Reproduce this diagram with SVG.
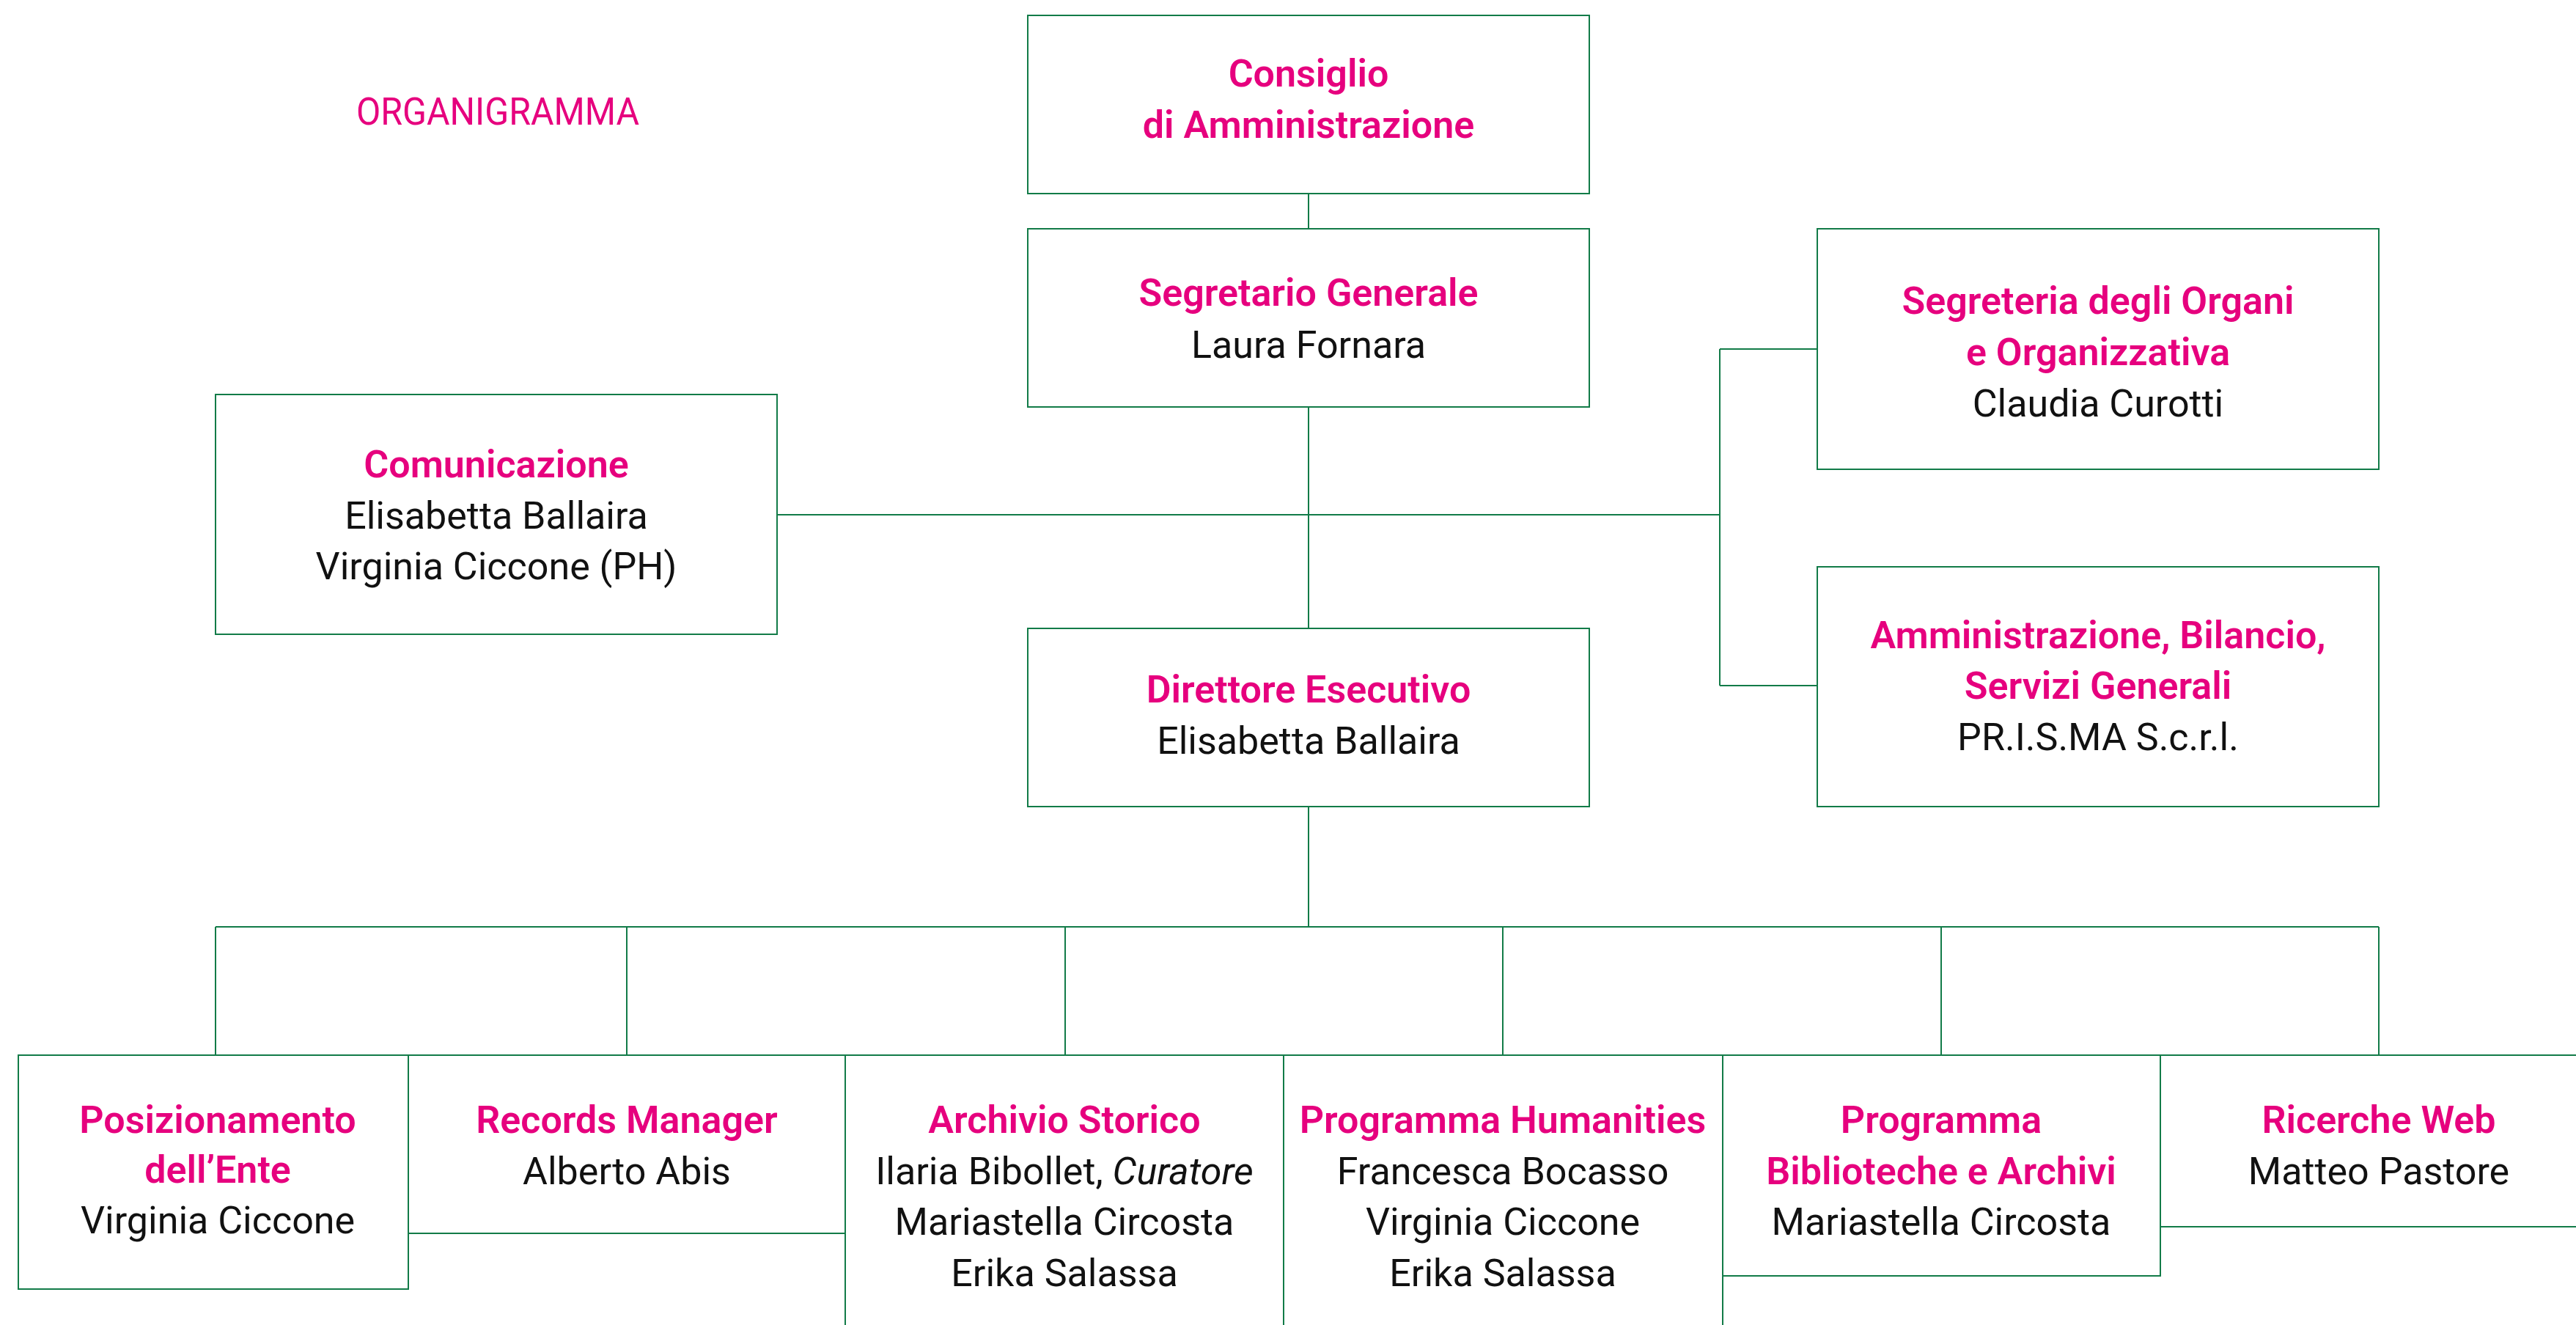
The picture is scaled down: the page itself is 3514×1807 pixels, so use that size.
<svg xmlns="http://www.w3.org/2000/svg" width="3514" height="1807" viewBox="0 0 3514 1807">
<style>
.box{fill:#ffffff;stroke:#127B48;stroke-width:2}
.con{stroke:#127B48;stroke-width:2;fill:none}
.t{font-family:Roboto,"Liberation Sans",sans-serif;font-size:52px;text-anchor:middle}
.h{fill:#E6007E;font-weight:600}
.n{fill:#111111;font-weight:400}
.title{font-family:Roboto,"Liberation Sans",sans-serif;font-size:52px;fill:#E6007E;font-weight:400}
</style>
<rect width="3514" height="1807" fill="#ffffff"/>
<text class="title" x="486" y="170" textLength="386" lengthAdjust="spacingAndGlyphs">ORGANIGRAMMA</text>

<g id="connectors">
<line class="con" x1="1785" y1="264" x2="1785" y2="312"/>
<line class="con" x1="1785" y1="555" x2="1785" y2="857"/>
<line class="con" x1="1060" y1="702" x2="2346" y2="702"/>
<line class="con" x1="2346" y1="476" x2="2346" y2="935"/>
<line class="con" x1="2346" y1="476" x2="2479" y2="476"/>
<line class="con" x1="2346" y1="935" x2="2479" y2="935"/>
<line class="con" x1="1785" y1="1100" x2="1785" y2="1264"/>
<line class="con" x1="294" y1="1264" x2="3245" y2="1264"/>
<line class="con" x1="294" y1="1264" x2="294" y2="1439"/>
<line class="con" x1="855" y1="1264" x2="855" y2="1439"/>
<line class="con" x1="1453" y1="1264" x2="1453" y2="1439"/>
<line class="con" x1="2050" y1="1264" x2="2050" y2="1439"/>
<line class="con" x1="2648" y1="1264" x2="2648" y2="1439"/>
<line class="con" x1="3245" y1="1264" x2="3245" y2="1439"/>
</g>

<g id="consiglio">
<rect class="box" x="1402" y="21" width="766" height="243"/>
<text class="t h" x="1785" y="118">Consiglio</text>
<text class="t h" x="1785" y="188">di Amministrazione</text>
</g>

<g id="segretario">
<rect class="box" x="1402" y="312" width="766" height="243"/>
<text class="t h" x="1785" y="417">Segretario Generale</text>
<text class="t n" x="1785" y="488">Laura Fornara</text>
</g>

<g id="comunicazione">
<rect class="box" x="294" y="538" width="766" height="327"/>
<text class="t h" x="677" y="651">Comunicazione</text>
<text class="t n" x="677" y="721">Elisabetta Ballaira</text>
<text class="t n" x="677" y="790">Virginia Ciccone (PH)</text>
</g>

<g id="segreteria">
<rect class="box" x="2479" y="312" width="766" height="328"/>
<text class="t h" x="2862" y="428">Segreteria degli Organi</text>
<text class="t h" x="2862" y="498">e Organizzativa</text>
<text class="t n" x="2862" y="568">Claudia Curotti</text>
</g>

<g id="amministrazione">
<rect class="box" x="2479" y="773" width="766" height="327"/>
<text class="t h" x="2862" y="884">Amministrazione, Bilancio,</text>
<text class="t h" x="2862" y="953">Servizi Generali</text>
<text class="t n" x="2862" y="1023">PR.I.S.MA S.c.r.l.</text>
</g>

<g id="direttore">
<rect class="box" x="1402" y="857" width="766" height="243"/>
<text class="t h" x="1785" y="958">Direttore Esecutivo</text>
<text class="t n" x="1785" y="1028">Elisabetta Ballaira</text>
</g>

<g id="posizionamento">
<rect class="box" x="25" y="1439" width="532" height="319"/>
<text class="t h" x="297" y="1545">Posizionamento</text>
<text class="t h" x="297" y="1613">dell’Ente</text>
<text class="t n" x="297" y="1682">Virginia Ciccone</text>
</g>

<g id="records">
<rect class="box" x="557" y="1439" width="596" height="243"/>
<text class="t h" x="855" y="1545">Records Manager</text>
<text class="t n" x="855" y="1615">Alberto Abis</text>
</g>

<g id="archivio">
<rect class="box" x="1153" y="1439" width="598" height="400"/>
<text class="t h" x="1452" y="1545">Archivio Storico</text>
<text class="t n" x="1452" y="1615">Ilaria Bibollet, <tspan font-style="italic">Curatore</tspan></text>
<text class="t n" x="1452" y="1684">Mariastella Circosta</text>
<text class="t n" x="1452" y="1754">Erika Salassa</text>
</g>

<g id="humanities">
<rect class="box" x="1751" y="1439" width="599" height="400"/>
<text class="t h" x="2050" y="1545">Programma Humanities</text>
<text class="t n" x="2050" y="1615">Francesca Bocasso</text>
<text class="t n" x="2050" y="1684">Virginia Ciccone</text>
<text class="t n" x="2050" y="1754">Erika Salassa</text>
</g>

<g id="biblioteche">
<rect class="box" x="2350" y="1439" width="597" height="301"/>
<text class="t h" x="2648" y="1545">Programma</text>
<text class="t h" x="2648" y="1615">Biblioteche e Archivi</text>
<text class="t n" x="2648" y="1684">Mariastella Circosta</text>
</g>

<g id="ricerche">
<rect class="box" x="2947" y="1439" width="620" height="234"/>
<text class="t h" x="3245" y="1545">Ricerche Web</text>
<text class="t n" x="3245" y="1615">Matteo Pastore</text>
</g>
</svg>
